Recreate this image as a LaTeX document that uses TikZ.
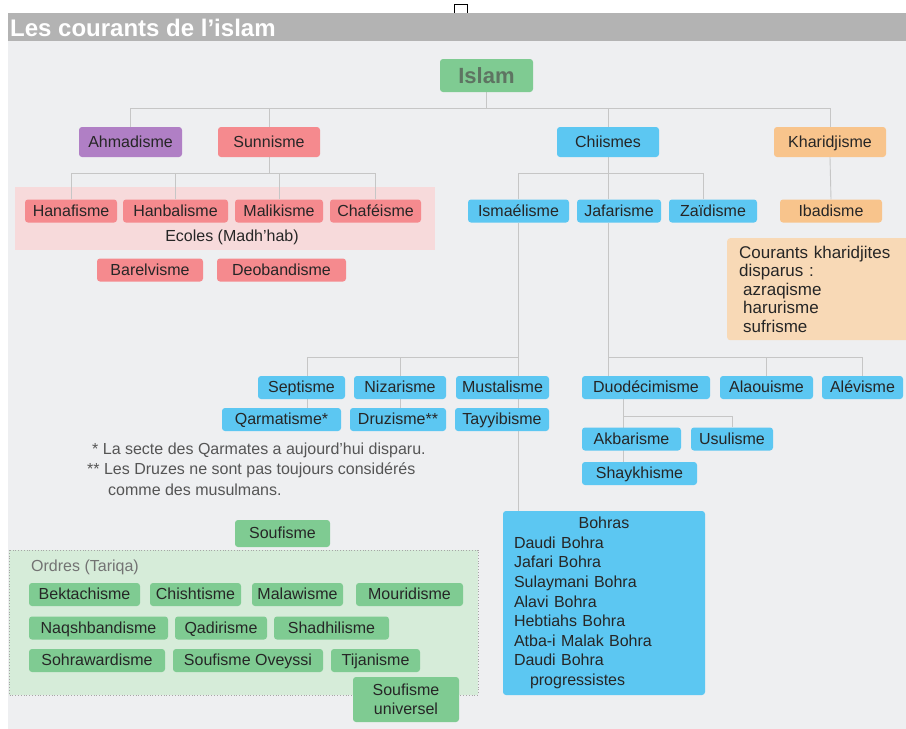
\documentclass[tikz,border=0pt]{standalone}
\usepackage{fontspec}
\setmainfont{Liberation Sans}
\usetikzlibrary{calc}
\definecolor{bgc}{HTML}{EEEFF1}
\definecolor{barc}{HTML}{B3B3B3}
\definecolor{linec}{HTML}{C6C6C6}
\definecolor{txtc}{HTML}{262626}
\definecolor{greenc}{HTML}{7FCB92}
\definecolor{greenbg}{HTML}{D6ECD9}
\definecolor{pinkc}{HTML}{F58A8E}
\definecolor{pinkbg}{HTML}{F7DADB}
\definecolor{bluec}{HTML}{5CC7F2}
\definecolor{orangec}{HTML}{F8C48C}
\definecolor{orangebg}{HTML}{F8D9B6}
\definecolor{purplec}{HTML}{B07FC5}
\definecolor{islamtxt}{HTML}{5E7462}
\definecolor{notec}{HTML}{555555}
\pgfdeclarelayer{back}
\pgfdeclarelayer{lines}
\pgfsetlayers{back,lines,main}
\begin{document}
\begin{tikzpicture}[x=1pt,y=-1pt,
 box/.style={rounded corners=3pt, inner sep=0pt, minimum height=23pt, text=txtc, font=\fontsize{16}{19}\selectfont},
 one/.style={text height=11.5pt, text depth=1pt},
 pk/.style={box, one, fill=pinkc},
 bl/.style={box, one, fill=bluec},
 gr/.style={box, one, fill=greenc},
 og/.style={box, one, fill=orangec},
 conn/.style={draw=linec, line width=0.9pt},
 note/.style={anchor=west, inner sep=0pt, text=notec, font=\fontsize{16}{19}\selectfont},
]
\useasboundingbox (0,0) rectangle (906,729);
\begin{pgfonlayer}{back}
\fill[white] (0,0) rectangle (906,729);
\fill[bgc] (8,41) rectangle (906,729);
\draw[black, line width=0.8pt] (454,4) rectangle (467,16);
\fill[barc] (8,13) rectangle (906,41);
\fill[pinkbg] (15,187) rectangle (435,250);
\fill[greenbg] (9,550) rectangle (478,695);
\draw[black!35, dotted, line width=0.8pt] (9,550) rectangle (478,695);
\end{pgfonlayer}

\node[anchor=west, inner sep=0pt, text=white, font=\bfseries\fontsize{24}{28}\selectfont] (title) at (10,27.5) {Les courants de l’islam};

% level 0-1
\node[box, fill=greenc, minimum width=93pt, minimum height=33pt, text=islamtxt, font=\bfseries\fontsize{22}{26}\selectfont, text height=16pt, text depth=0pt] (islam) at (486.5,75.5) {Islam};
\node[box, one, fill=purplec, minimum width=103pt, minimum height=30pt] (ahmad) at (130.5,142) {Ahmadisme};
\node[pk, minimum width=102pt, minimum height=30pt] (sunni) at (269,142) {Sunnisme};
\node[bl, minimum width=102pt, minimum height=30pt] (chiis) at (608,142) {Chiismes};
\node[og, minimum width=112pt, minimum height=30pt] (khari) at (830,142) {Kharidjisme};

% level 2
\node[pk, minimum width=92pt] (hanaf) at (71,211) {Hanafisme};
\node[pk, minimum width=105pt] (hanba) at (175.5,211) {Hanbalisme};
\node[pk, minimum width=88pt] (malik) at (279,211) {Malikisme};
\node[pk, minimum width=91pt] (chafe) at (375.5,211) {Chaféisme};
\node[inner sep=0pt, text=txtc, font=\fontsize{16}{19}\selectfont] (ecoles) at (232,237.5) {Ecoles (Madh’hab)};
\node[pk, minimum width=106pt] (barel) at (150,270) {Barelvisme};
\node[pk, minimum width=129pt] (deoba) at (281.5,270) {Deobandisme};

\node[bl, minimum width=101pt] (ismae) at (518.5,211) {Ismaélisme};
\node[bl, minimum width=84pt] (jafar) at (619,211) {Jafarisme};
\node[bl, minimum width=88pt] (zaidi) at (713,211) {Zaïdisme};
\node[og, minimum width=102pt] (ibadi) at (831,211) {Ibadisme};

\node[box, fill=orangebg, anchor=north west, minimum width=178pt, minimum height=102pt, text width=160pt, align=left, inner xsep=12pt, font=\fontsize{17}{18.5}\selectfont] (khdisp) at (727,238) {Courants kharidjites\\disparus :\\\hspace*{4pt}azraqisme\\\hspace*{4pt}harurisme\\\hspace*{4pt}sufrisme};

% level 3
\node[bl, minimum width=87pt] (septi) at (301.5,387.5) {Septisme};
\node[bl, minimum width=92pt] (nizar) at (400,387.5) {Nizarisme};
\node[bl, minimum width=93pt] (musta) at (502.5,387.5) {Mustalisme};
\node[bl, minimum width=119pt] (qarma) at (281.5,419.5) {Qarmatisme*};
\node[bl, minimum width=96pt] (druzi) at (398,419.5) {Druzisme**};
\node[bl, minimum width=94pt] (tayyi) at (502,419.5) {Tayyibisme};

\node[bl, minimum width=128pt] (duode) at (646,387.5) {Duodécimisme};
\node[bl, minimum width=93pt] (alaou) at (766.5,387.5) {Alaouisme};
\node[bl, minimum width=81pt] (alevi) at (862.5,387.5) {Alévisme};
\node[bl, minimum width=99pt] (akbar) at (631.5,439) {Akbarisme};
\node[bl, minimum width=82pt] (usuli) at (732,439) {Usulisme};
\node[bl, minimum width=115pt] (shayk) at (639.5,473.5) {Shaykhisme};

\node[note] (fn1) at (92,450) {* La secte des Qarmates a aujourd’hui disparu.};
\node[note] (fn2) at (87,470) {** Les Druzes ne sont pas toujours considérés};
\node[note] (fn3) at (108,490) {comme des musulmans.};

\node[box, fill=bluec, minimum width=196pt, minimum height=184pt, text width=180pt, align=left, inner xsep=11pt, font=\fontsize{16}{19.6}\selectfont] (bohras) at (604,603) {\makebox[180pt]{Bohras}\\Daudi Bohra\\Jafari Bohra\\Sulaymani Bohra\\Alavi Bohra\\Hebtiahs Bohra\\Atba-i Malak Bohra\\Daudi Bohra\\\hspace*{16pt}progressistes};

% Soufisme
\node[gr, minimum width=95pt, minimum height=27pt] (soufi) at (282.5,533.5) {Soufisme};
\node[note, text=black!55] (ordres) at (31,567) {Ordres (Tariqa)};
\node[gr, minimum width=111pt] (bekta) at (84.5,594.5) {Bektachisme};
\node[gr, minimum width=91pt] (chisht) at (195.5,594.5) {Chishtisme};
\node[gr, minimum width=91pt] (malaw) at (297.5,594.5) {Malawisme};
\node[gr, minimum width=107pt] (mouri) at (409.5,594.5) {Mouridisme};
\node[gr, minimum width=139pt] (naqsh) at (98.5,628) {Naqshbandisme};
\node[gr, minimum width=92pt] (qadir) at (221,628) {Qadirisme};
\node[gr, minimum width=115pt] (shadh) at (331.5,628) {Shadhilisme};
\node[gr, minimum width=136pt] (sohra) at (97,660.5) {Sohrawardisme};
\node[gr, minimum width=150pt] (soufo) at (248,660.5) {Soufisme Oveyssi};
\node[gr, minimum width=89pt] (tijan) at (375.5,660.5) {Tijanisme};
\node[box, fill=greenc, minimum width=106pt, minimum height=45pt, align=center] (soufu) at (406,699.5) {Soufisme\\universel};

% connectors
\coordinate (bus1) at (0,108);
\coordinate (bus2) at (0,173);
\coordinate (bus4) at (0,357);
\coordinate (zx) at ($(zaidi.north)+(-10,0)$);
\coordinate (sx) at ($(septi.north)+(5.5,0)$);
\coordinate (dx) at ($(duode.south)+(-23,0)$);
\coordinate (bus5) at (0,416);
\begin{pgfonlayer}{lines}
\draw[conn] (islam.south) -- (islam.south |- bus1);
\draw[conn] (ahmad.north) |- (bus1 -| khari.north) -- (khari.north);
\draw[conn] (sunni.north) -- (sunni.north |- bus1);
\draw[conn] (chiis.north) -- (chiis.north |- bus1);
\draw[conn] (sunni.south) -- (sunni.south |- bus2);
\draw[conn] (hanaf.north) |- (bus2 -| chafe.north) -- (chafe.north);
\draw[conn] (hanba.north) -- (hanba.north |- bus2);
\draw[conn] (malik.north) -- (malik.north |- bus2);
\draw[conn] (chiis.south) -- (chiis.south |- jafar.north);
\draw[conn] (ismae.north) |- (bus2 -| zx) -- (zx);
\draw[conn] (khari.south) -- (ibadi.north);
\draw[conn] (ismae.south) -- (ismae.south |- bohras.north);
\draw[conn] (bus4 -| sx) -- (bus4 -| ismae.south);
\draw[conn] (bus4 -| sx) -- (qarma.north -| sx);
\draw[conn] (nizar.north |- bus4) -- (druzi.north -| nizar.north);
\draw[conn] (chiis.south |- jafar.south) -- (chiis.south |- duode.north);
\draw[conn] (chiis.south |- bus4) -| (alevi.north);
\draw[conn] (alaou.north) -- (alaou.north |- bus4);
\draw[conn] (dx) -- (dx |- shayk.north);
\draw[conn] (dx |- bus5) -| (usuli.north);
\end{pgfonlayer}
\end{tikzpicture}
\end{document}
